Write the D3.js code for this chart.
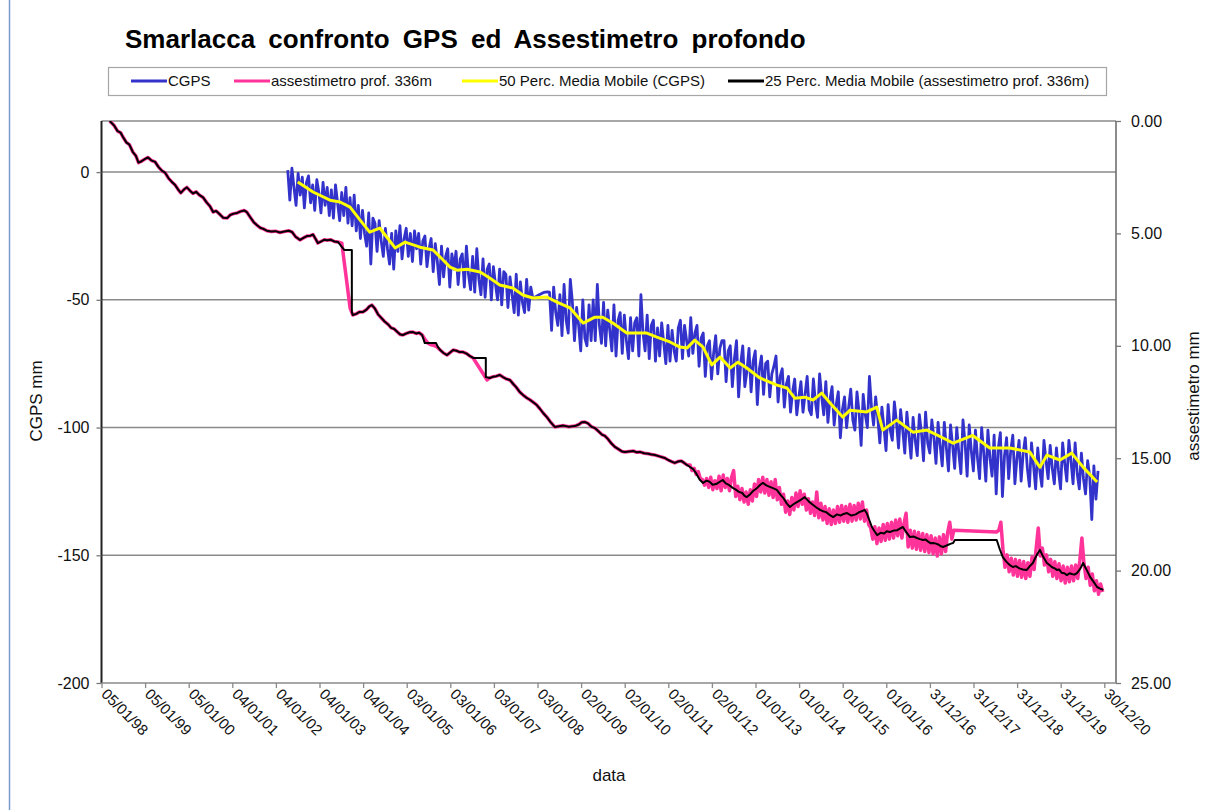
<!DOCTYPE html>
<html>
<head>
<meta charset="utf-8">
<script src="https://cdn.jsdelivr.net/npm/d3@7"></script>
<style>
  html, body { margin: 0; padding: 0; background: #fff; }
  svg { display: block; font-family: "Liberation Sans", Arial, sans-serif; }
</style>
</head>
<body>
<svg id="chart" width="1226" height="810"></svg>
<script>
// ---- axis ticks -------------------------------------------------------
const dateTicks = ["05/01/98","05/01/99","05/01/00","04/01/01","04/01/02","04/01/03",
  "04/01/04","03/01/05","03/01/06","03/01/07","03/01/08","02/01/09","02/01/10",
  "02/01/11","02/01/12","01/01/13","01/01/14","01/01/15","01/01/16","31/12/16",
  "31/12/17","31/12/18","31/12/19","30/12/20"];
const dateDomain = ["05/01/98", "07/04/21"];
const cgpsTicks = [-200, -150, -100, -50, 0];
const cgpsDomain = [-200, 20];
const asseTicks = [0, 5, 10, 15, 20, 25];
const asseDomain = [0, 25];

// ---- CGPS (mm), one reading every 1/21 of a year from cgpsStart --------
const cgpsStart = 2002.28;
const cgpsStep = 1 / 21;
const cgpsValues = [
  0.8,-11,1.5,-6,-13,-0.5,-9,-2,-14,-4,-1.5,-12,-5,-15,-3,-8,-16,-4,-13,-6,-17,
  -7,-18,-5,-12,-19,-8,-17,-6,-20,-10,-21,-9,-23,-13,-26,-15,-24,-29,-16,-36,-18,
  -20,-31,-19,-27,-33,-22,-30,-36,-24,-38,-23,-31,-21,-34,-26,-22,-33,-24,-35,-23,-30,
  -24,-36,-27,-25,-37,-30,-26,-39,-28,-35,-44,-29,-41,-33,-30,-45,-32,-38,-31,-44,-34,
  -32,-45,-29,-40,-46,-33,-47,-30,-42,-48,-34,-49,-38,-36,-50,-37,-44,-50,-38,-52,-39,
  -40,-53,-41,-48,-55,-40,-56,-43,-51,-55,-42,-54,-45,-49.4,-49.0,-48.5,-48.0,-47.6,-47.2,-47.0,-46.9,
  -47,-62,-45,-55,-60,-48,-64,-44,-58,-63,-42,-51,-66,-53,-60,-70,-50,-65,-68,-52,-66,
  -50,-66,-44,-60,-67,-51,-68,-54,-62,-70,-52,-72,-58,-55,-71,-56,-66,-73,-57,-70,-59,
  -57,-72,-48,-63,-70,-56,-73,-60,-58,-74,-61,-72,-59,-67,-75,-60,-74,-62,-70,-74,-61,
  -58,-73,-60,-66,-72,-57,-71,-63,-60,-76,-65,-63,-80,-68,-66,-81,-71,-64,-79,-69,-66,
  -66,-82,-70,-68,-84,-73,-66,-88,-75,-68,-84,-78,-69,-86,-74,-70,-91,-77,-72,-87,-75,
  -74,-88,-79,-76,-72,-90,-80,-77,-92,-83,-80,-94,-86,-81,-95,-88,-82,-94,-87,-80,-93,
  -95,-81,-90,-96,-79,-88,-95,-82,-98,-89,-84,-99,-91,-86,-104,-93,-88,-100,-92,-85,-97,
  -101,-86,-94,-107,-87,-95,-100,-80,-92,-99,-88,-96,-106,-92,-100,-109,-91,-101,-105,-90,-98,
  -108,-93,-101,-110,-94,-103,-112,-96,-105,-111,-95,-102,-113,-94,-106,-110,-97,-104,-114,-98,-107,
  -115,-98,-108,-117,-99,-107,-116,-100,-110,-118,-97,-106,-119,-99,-109,-117,-101,-112,-120,-100,-110,
  -121,-101,-112,-119,-103,-126,-108,-102,-127,-111,-104,-120,-109,-103,-122,-112,-105,-121,-110,-104,-116,
  -123,-106,-115,-124,-108,-117,-123,-105,-113,-120,-107,-116,-122,-108,-117,-124,-106,-114,-121,-105,-113,
  -122,-106,-118,-124,-110,-120,-126,-113,-119,-136,-115,-128,-117
];

// ---- 50-point moving average of CGPS: [decimal year, mm] --------------
const cgpsAverage = [
  [2002.51,-3.9],[2002.86,-7.8],[2003.25,-11.0],[2003.48,-11.7],[2003.71,-13.7],
  [2003.94,-18.8],[2004.16,-23.5],[2004.39,-21.9],[2004.74,-29.7],[2004.97,-27.4],
  [2005.31,-29.4],[2005.61,-30.5],[2005.84,-34.4],[2006.00,-37.2],[2006.16,-38.4],
  [2006.39,-38.0],[2006.69,-39.1],[2006.91,-41.5],[2007.14,-44.2],[2007.44,-45.4],
  [2007.67,-48.1],[2007.90,-49.3],[2008.22,-48.9],[2008.45,-50.9],[2008.75,-53.2],
  [2009.05,-59.1],[2009.32,-56.8],[2009.50,-56.8],[2009.73,-59.1],[2010.05,-63.0],
  [2010.51,-63.0],[2010.74,-64.6],[2011.04,-66.5],[2011.27,-68.5],[2011.43,-68.9],
  [2011.61,-65.8],[2011.80,-68.5],[2012.00,-75.5],[2012.19,-72.4],[2012.42,-76.7],
  [2012.60,-74.4],[2012.80,-76.7],[2013.10,-80.6],[2013.49,-83.4],[2013.72,-84.5],
  [2013.90,-88.5],[2014.13,-88.1],[2014.32,-89.2],[2014.52,-86.5],[2014.71,-90.4],
  [2015.00,-95.9],[2015.17,-93.2],[2015.55,-93.9],[2015.78,-92.0],[2015.92,-101.0],
  [2016.24,-97.1],[2016.61,-101.8],[2016.93,-101.0],[2017.30,-104.1],[2017.53,-106.1],
  [2017.98,-103.1],[2018.37,-108.0],[2018.60,-108.0],[2018.83,-108.0],[2019.29,-109.6],
  [2019.52,-115.5],[2019.68,-110.8],[2019.98,-112.7],[2020.25,-110.0],[2020.51,-115.5],
  [2020.83,-121.3]
];

// ---- deep extensometer, 336 m (mm): early readings [decimal year, mm] --
const asseEarly = [
  [1998.20,0.00],[1998.30,0.20],[1998.38,0.45],[1998.45,0.52],[1998.50,0.70],[1998.58,0.95],
  [1998.65,1.05],[1998.73,1.38],[1998.80,1.55],[1998.86,1.85],[1998.92,1.80],[1999.00,1.70],
  [1999.08,1.62],[1999.15,1.75],[1999.24,1.82],[1999.32,2.05],[1999.40,2.22],[1999.47,2.30],
  [1999.55,2.55],[1999.62,2.70],[1999.70,2.85],[1999.77,3.05],[1999.83,3.20],[1999.90,3.05],
  [1999.97,2.95],[2000.04,3.10],[2000.11,3.22],[2000.18,3.15],[2000.26,3.30],[2000.34,3.40],
  [2000.42,3.62],[2000.50,3.80],[2000.57,4.05],[2000.64,4.00],[2000.72,4.15],[2000.80,4.30],
  [2000.89,4.32],[2000.96,4.18],[2001.04,4.12],[2001.12,4.09],[2001.20,4.02],[2001.28,3.98],
  [2001.34,4.05],[2001.42,4.28],[2001.50,4.50],[2001.57,4.63],[2001.65,4.75],[2001.72,4.80],
  [2001.80,4.88],[2001.90,4.92],[2002.00,4.90],[2002.10,4.96],[2002.20,4.92],[2002.30,4.88],
  [2002.38,4.94],[2002.46,5.15],[2002.56,5.29],[2002.64,5.20],[2002.72,5.12],[2002.80,5.10],
  [2002.86,5.05],[2002.92,5.25],[2002.97,5.43],[2003.05,5.35],[2003.12,5.28],[2003.18,5.30],
  [2003.26,5.28],[2003.35,5.36],[2003.43,5.38],[2003.52,5.43],[2003.71,8.32],[2003.77,8.63],
  [2003.85,8.58],[2003.92,8.50],[2004.00,8.50],[2004.08,8.40],[2004.15,8.25],[2004.21,8.19],
  [2004.28,8.35],[2004.35,8.60],[2004.42,8.75],[2004.50,8.92],[2004.58,9.05],[2004.65,9.20],
  [2004.72,9.25],[2004.80,9.40],[2004.86,9.50],[2004.92,9.52],[2005.00,9.45],[2005.07,9.40],
  [2005.15,9.39],[2005.22,9.45],[2005.29,9.42],[2005.36,9.52],[2005.42,9.70],[2005.49,9.88],
  [2005.56,9.95],[2005.63,9.98],[2005.70,10.05],[2005.78,10.20],[2005.85,10.32],[2005.93,10.41],
  [2006.00,10.30],[2006.07,10.19],[2006.15,10.22],[2006.22,10.28],[2006.30,10.28],[2006.38,10.35],
  [2006.45,10.45],[2006.53,10.54],[2006.85,11.52],[2006.91,11.43],[2006.98,11.38],[2007.06,11.35],
  [2007.14,11.30],[2007.22,11.40],[2007.30,11.48],[2007.37,11.52],[2007.45,11.70],[2007.52,11.85],
  [2007.60,12.06],[2007.68,12.20],[2007.76,12.32],[2007.83,12.40],[2007.90,12.50],[2007.98,12.62],
  [2008.06,12.80],[2008.14,13.00],[2008.22,13.17],[2008.30,13.38],[2008.40,13.61],[2008.50,13.58],
  [2008.60,13.55],[2008.72,13.60],[2008.86,13.57],[2008.95,13.50],[2009.02,13.40],[2009.09,13.39],
  [2009.16,13.45],[2009.24,13.60],[2009.32,13.66],[2009.40,13.80],[2009.48,13.95],[2009.55,14.01],
  [2009.62,14.15],[2009.70,14.35],[2009.78,14.50],[2009.86,14.60],[2009.94,14.70],[2010.01,14.72],
  [2010.10,14.70],[2010.20,14.68],[2010.28,14.74],[2010.35,14.72],[2010.45,14.78],[2010.55,14.80],
  [2010.62,14.84],[2010.70,14.86],[2010.80,14.92],[2010.92,14.99],[2011.00,15.08],[2011.08,15.15],
  [2011.15,15.21],[2011.22,15.15],[2011.30,15.12],[2011.36,15.20],[2011.43,15.30]
];
// later readings, one every 1/21 of a year
const asseStep = 1 / 21;
const asseRunAStart = 2011.50;
const asseRunA = [
  15.30,15.55,15.45,15.72,15.60,15.90,15.95,16.20,15.90,16.30,15.85,16.40,16.00,16.35,15.80,16.45,15.75,16.30,15.90,16.45,15.85,
  15.55,16.70,16.25,16.85,16.35,16.95,16.50,17.05,16.40,16.90,16.15,16.70,15.95,16.50,15.85,16.55,15.95,16.65,16.05,16.75,15.95,
  16.85,16.30,17.05,16.60,17.40,16.90,17.50,16.75,17.30,16.55,17.15,16.45,17.05,16.60,17.30,16.80,17.45,16.95,17.55,16.50,17.65,
  17.00,17.75,17.15,17.90,17.25,17.95,17.30,17.90,17.15,17.85,17.10,17.80,17.15,17.85,17.05,17.80,17.10,17.75,17.00,17.70,16.95,
  17.80,17.30,17.95,18.10,18.60,18.05,18.80,18.10,18.70,17.95,18.65,17.90,18.60,17.85,18.55,17.75,18.45,17.70,18.55,17.90,17.45,
  18.95,18.20,19.00,18.25,19.05,18.30,19.10,18.35,19.15,18.40,19.20,18.45,19.25,18.55,19.35,18.50,19.25,18.40,19.15,18.30,17.85,18.60,18.20
];
const asseRunBStart = 2018.53;
const asseRunB = [
  18.28,18.20,17.85,19.05,19.85,19.30,20.05,19.45,20.20,19.50,20.25,19.55,20.30,19.60,20.35,19.65,20.25,19.40,19.95,19.00,
  18.10,19.35,19.00,19.75,19.30,20.05,19.50,20.25,19.60,20.35,19.70,20.45,19.80,20.55,19.85,20.50,19.80,20.45,19.75,20.35,
  19.55,18.55,19.70,20.35,19.85,20.65,20.15,20.90,20.45,21.05,20.60,20.95
];

// ---- 25-point moving average of the extensometer: [decimal year, mm] --
const asseAverage = [
  [1998.20,0.00],[1998.30,0.20],[1998.38,0.45],[1998.45,0.52],[1998.50,0.70],[1998.58,0.95],
  [1998.65,1.05],[1998.73,1.38],[1998.80,1.55],[1998.86,1.85],[1998.92,1.80],[1999.00,1.70],
  [1999.08,1.62],[1999.15,1.75],[1999.24,1.82],[1999.32,2.05],[1999.40,2.22],[1999.47,2.30],
  [1999.55,2.55],[1999.62,2.70],[1999.70,2.85],[1999.77,3.05],[1999.83,3.20],[1999.90,3.05],
  [1999.97,2.95],[2000.04,3.10],[2000.11,3.22],[2000.18,3.15],[2000.26,3.30],[2000.34,3.40],
  [2000.42,3.62],[2000.50,3.80],[2000.57,4.05],[2000.64,4.00],[2000.72,4.15],[2000.80,4.30],
  [2000.89,4.32],[2000.96,4.18],[2001.04,4.12],[2001.12,4.09],[2001.20,4.02],[2001.28,3.98],
  [2001.34,4.05],[2001.42,4.28],[2001.50,4.50],[2001.57,4.63],[2001.65,4.75],[2001.72,4.80],
  [2001.80,4.88],[2001.90,4.92],[2002.00,4.90],[2002.10,4.96],[2002.20,4.92],[2002.30,4.88],
  [2002.38,4.94],[2002.46,5.15],[2002.56,5.29],[2002.64,5.20],[2002.72,5.12],[2002.80,5.10],
  [2002.86,5.05],[2002.92,5.25],[2002.97,5.43],[2003.05,5.35],[2003.12,5.28],[2003.18,5.30],
  [2003.26,5.28],[2003.35,5.36],[2003.43,5.38],[2003.52,5.60],[2003.58,5.74],[2003.75,5.74],
  [2003.75,8.50],[2003.77,8.63],[2003.85,8.58],[2003.92,8.50],[2004.00,8.50],[2004.08,8.40],
  [2004.15,8.25],[2004.21,8.19],[2004.28,8.35],[2004.35,8.60],[2004.42,8.75],[2004.50,8.92],
  [2004.58,9.05],[2004.65,9.20],[2004.72,9.25],[2004.80,9.40],[2004.86,9.50],[2004.92,9.52],
  [2005.00,9.45],[2005.07,9.40],[2005.15,9.39],[2005.22,9.45],[2005.29,9.42],[2005.36,9.52],
  [2005.42,9.88],[2005.68,9.88],[2005.72,10.05],[2005.78,10.20],[2005.85,10.32],[2005.93,10.41],
  [2006.00,10.30],[2006.07,10.19],[2006.15,10.22],[2006.22,10.28],[2006.30,10.28],[2006.38,10.35],
  [2006.45,10.45],[2006.53,10.54],[2006.82,10.54],[2006.82,11.39],[2006.91,11.43],[2006.98,11.38],
  [2007.06,11.35],[2007.14,11.30],[2007.22,11.40],[2007.30,11.48],[2007.37,11.52],[2007.45,11.70],
  [2007.52,11.85],[2007.60,12.06],[2007.68,12.20],[2007.76,12.32],[2007.83,12.40],[2007.90,12.50],
  [2007.98,12.62],[2008.06,12.80],[2008.14,13.00],[2008.22,13.17],[2008.30,13.38],[2008.40,13.61],
  [2008.50,13.58],[2008.60,13.55],[2008.72,13.60],[2008.86,13.57],[2008.95,13.50],[2009.02,13.40],
  [2009.09,13.39],[2009.16,13.45],[2009.24,13.60],[2009.32,13.66],[2009.40,13.80],[2009.48,13.95],
  [2009.55,14.01],[2009.62,14.15],[2009.70,14.35],[2009.78,14.50],[2009.86,14.60],[2009.94,14.70],
  [2010.01,14.72],[2010.10,14.70],[2010.20,14.68],[2010.28,14.74],[2010.35,14.72],[2010.45,14.78],
  [2010.55,14.80],[2010.62,14.84],[2010.70,14.86],[2010.80,14.92],[2010.92,14.99],[2011.00,15.08],
  [2011.08,15.15],[2011.15,15.21],[2011.22,15.15],[2011.30,15.12],[2011.36,15.20],[2011.43,15.30],
  [2011.50,15.39],[2011.58,15.50],[2011.65,15.70],[2011.72,15.95],[2011.80,16.10],[2011.88,16.00],
  [2011.95,16.05],[2012.02,16.18],[2012.10,16.15],[2012.18,16.05],[2012.25,15.97],[2012.32,16.12],
  [2012.40,16.20],[2012.48,16.32],[2012.55,16.40],[2012.62,16.50],[2012.70,16.55],[2012.75,16.68],
  [2012.80,16.73],[2012.88,16.60],[2012.95,16.45],[2013.00,16.38],[2013.05,16.30],[2013.11,16.18],
  [2013.17,16.10],[2013.24,16.20],[2013.30,16.25],[2013.40,16.33],[2013.49,16.41],[2013.57,16.62],
  [2013.65,16.80],[2013.72,17.02],[2013.79,17.17],[2013.87,17.05],[2013.95,16.95],[2014.04,16.85],
  [2014.13,16.73],[2014.22,16.92],[2014.30,17.05],[2014.39,17.18],[2014.48,17.30],[2014.55,17.36],
  [2014.62,17.40],[2014.70,17.52],[2014.78,17.62],[2014.87,17.50],[2014.95,17.55],[2015.02,17.48],
  [2015.10,17.44],[2015.20,17.55],[2015.30,17.50],[2015.38,17.40],[2015.45,17.35],[2015.50,17.30],
  [2015.55,17.44],[2015.61,17.75],[2015.67,18.06],[2015.73,18.25],[2015.79,18.42],[2015.87,18.32],
  [2015.95,18.35],[2016.01,18.25],[2016.08,18.28],[2016.17,18.22],[2016.25,18.20],[2016.32,18.12],
  [2016.38,18.06],[2016.46,18.30],[2016.54,18.51],[2016.62,18.48],[2016.70,18.55],[2016.77,18.60],
  [2016.84,18.64],[2016.90,18.62],[2016.95,18.70],[2017.01,18.78],[2017.07,18.77],[2017.14,18.80],
  [2017.20,18.85],[2017.25,18.92],[2017.30,18.95],[2017.36,18.90],[2017.42,18.85],[2017.48,18.80],
  [2017.53,18.77],[2017.57,18.64],[2018.53,18.64],[2018.60,19.05],[2018.67,19.40],[2018.74,19.58],
  [2018.80,19.70],[2018.85,19.78],[2018.90,19.84],[2018.97,19.80],[2019.05,19.90],[2019.13,19.95],
  [2019.22,19.97],[2019.29,19.80],[2019.36,19.66],[2019.41,19.45],[2019.45,19.30],[2019.52,19.08],
  [2019.60,19.40],[2019.68,19.66],[2019.74,19.75],[2019.80,19.85],[2019.86,19.90],[2019.91,19.97],
  [2019.96,19.95],[2020.02,20.10],[2020.08,20.12],[2020.14,20.20],[2020.20,20.12],[2020.25,20.15],
  [2020.31,20.18],[2020.37,20.11],[2020.45,19.90],[2020.51,19.66],[2020.56,19.85],[2020.60,20.00],
  [2020.67,20.28],[2020.75,20.50],[2020.83,20.73],[2020.90,20.80],[2020.97,20.86]
];

// ---- legend -----------------------------------------------------------
const legendLabels = ["CGPS", "assestimetro prof. 336m",
  "50 Perc. Media Mobile (CGPS)", "25 Perc. Media Mobile (assestimetro prof. 336m)"];
const legendColors = ["#3333cc", "#ff3399", "#ffff00", "#000000"];

// ---- helpers ----------------------------------------------------------
const parseDay = d3.utcParse("%d/%m/%y");
function yearToDate(t) {
  const y = Math.floor(t);
  const a = Date.UTC(y, 0, 1), b = Date.UTC(y + 1, 0, 1);
  return new Date(a + (t - y) * (b - a));
}
function regular(start, step, values) {
  return values.map((v, i) => [start + i * step, v]);
}

// ---- layout -----------------------------------------------------------
const plot = { left: 101.5, right: 1116, top: 121, bottom: 683 };
const svg = d3.select("#chart");

const x = d3.scaleUtc().domain(dateDomain.map(parseDay)).range([plot.left, plot.right]);
const yL = d3.scaleLinear().domain(cgpsDomain).range([plot.bottom, plot.top]);
const yR = d3.scaleLinear().domain(asseDomain).range([plot.top, plot.bottom]);

// outer frame of the chart
svg.append("line").attr("x1", 9.5).attr("x2", 9.5).attr("y1", 0).attr("y2", 810)
  .attr("stroke", "#7b9bd0").attr("stroke-width", 1.5);

// title
svg.append("text").attr("x", 125).attr("y", 48)
  .attr("font-size", 26).attr("font-weight", "bold").attr("word-spacing", 6)
  .attr("fill", "#000").text("Smarlacca confronto GPS ed Assestimetro profondo");

// legend
const lg = svg.append("g");
lg.append("rect").attr("x", 108.5).attr("y", 67.5).attr("width", 998).attr("height", 28)
  .attr("fill", "#fff").attr("stroke", "#a6a6a6").attr("stroke-width", 1.2);
const legendX = [131, 234, 462, 728];
legendLabels.forEach((lab, i) => {
  lg.append("line").attr("x1", legendX[i]).attr("x2", legendX[i] + 36)
    .attr("y1", 81).attr("y2", 81).attr("stroke", legendColors[i]).attr("stroke-width", 3);
  lg.append("text").attr("x", legendX[i] + 37).attr("y", 86)
    .attr("font-size", 15).attr("fill", "#111").text(lab);
});

// horizontal gridlines on the CGPS scale
svg.append("g").selectAll("line").data(cgpsTicks.filter(v => v > cgpsDomain[0]))
  .join("line")
  .attr("x1", plot.left).attr("x2", plot.right)
  .attr("y1", d => yL(d)).attr("y2", d => yL(d))
  .attr("stroke", "#8a8a8a").attr("stroke-width", 1.5);
// plot frame top
svg.append("line").attr("x1", plot.left).attr("x2", plot.right)
  .attr("y1", plot.top).attr("y2", plot.top).attr("stroke", "#8a8a8a").attr("stroke-width", 1.5);

// clip for the series
svg.append("clipPath").attr("id", "plotClip").append("rect")
  .attr("x", plot.left).attr("y", plot.top)
  .attr("width", plot.right - plot.left).attr("height", plot.bottom - plot.top);
const series = svg.append("g").attr("clip-path", "url(#plotClip)");

const lineR = d3.line().x(d => x(yearToDate(d[0]))).y(d => yR(d[1]));
const lineL = d3.line().x(d => x(yearToDate(d[0]))).y(d => yL(d[1]));

const asseRaw = asseEarly
  .concat(regular(asseRunAStart, asseStep, asseRunA))
  .concat(regular(asseRunBStart, asseStep, asseRunB));

series.append("path").datum(asseRaw).attr("d", lineR)
  .attr("fill", "none").attr("stroke", "#ff3399").attr("stroke-width", 3.5)
  .attr("stroke-linejoin", "round");
series.append("path").datum(asseAverage).attr("d", lineR)
  .attr("fill", "none").attr("stroke", "#000").attr("stroke-width", 2)
  .attr("stroke-linejoin", "round");
series.append("path").datum(regular(cgpsStart, cgpsStep, cgpsValues)).attr("d", lineL)
  .attr("fill", "none").attr("stroke", "#3333cc").attr("stroke-width", 2.8)
  .attr("stroke-linejoin", "round");
series.append("path").datum(cgpsAverage).attr("d", lineL)
  .attr("fill", "none").attr("stroke", "#ffff00").attr("stroke-width", 3)
  .attr("stroke-linejoin", "round");

// left axis (CGPS)
const axL = svg.append("g").attr("transform", `translate(${plot.left},0)`)
  .call(d3.axisLeft(yL).tickValues(cgpsTicks).tickSize(5).tickPadding(7).tickFormat(d3.format("d")));
axL.select(".domain").attr("stroke", "#222").attr("stroke-width", 2)
  .attr("d", `M0,${plot.top}V${plot.bottom}`);
axL.selectAll(".tick line").attr("stroke", "#777").attr("stroke-width", 1.3);
axL.selectAll(".tick text").attr("font-size", 16).attr("fill", "#111")
  .attr("font-family", "Liberation Sans, Arial, sans-serif").text(d => d < 0 ? "-" + Math.abs(d) : d);

// right axis (extensometer)
const axR = svg.append("g").attr("transform", `translate(${plot.right},0)`)
  .call(d3.axisRight(yR).tickValues(asseTicks).tickSize(5).tickPadding(10).tickFormat(d3.format(".2f")));
axR.select(".domain").attr("stroke", "#666").attr("stroke-width", 1.5)
  .attr("d", `M0,${plot.top}V${plot.bottom}`);
axR.selectAll(".tick line").attr("stroke", "#777").attr("stroke-width", 1.3);
axR.selectAll(".tick text").attr("font-size", 16).attr("fill", "#111")
  .attr("font-family", "Liberation Sans, Arial, sans-serif");

// bottom time axis
const tickDates = dateTicks.map(parseDay);
const axB = svg.append("g").attr("transform", `translate(0,${plot.bottom})`)
  .call(d3.axisBottom(x).tickValues(tickDates).tickSize(5).tickFormat(() => ""));
axB.select(".domain").attr("stroke", "#8a8a8a").attr("stroke-width", 1.5)
  .attr("d", `M${plot.left},0H${plot.right}`);
axB.selectAll(".tick line").attr("stroke", "#8a8a8a").attr("stroke-width", 1.3);
svg.append("g").selectAll("text").data(dateTicks).join("text")
  .attr("transform", (d, i) => `translate(${x(tickDates[i]) - 1},${plot.bottom + 12}) rotate(45)`)
  .attr("font-size", 15).attr("fill", "#111").text(d => d);

// axis titles
svg.append("text").attr("transform", "translate(42,401) rotate(-90)")
  .attr("text-anchor", "middle").attr("font-size", 17).attr("fill", "#111").text("CGPS mm");
svg.append("text").attr("transform", "translate(1199,396) rotate(-90)")
  .attr("text-anchor", "middle").attr("font-size", 17).attr("fill", "#111").text("assestimetro mm");
svg.append("text").attr("x", 609).attr("y", 781)
  .attr("text-anchor", "middle").attr("font-size", 17).attr("fill", "#111").text("data");
</script>
</body>
</html>
